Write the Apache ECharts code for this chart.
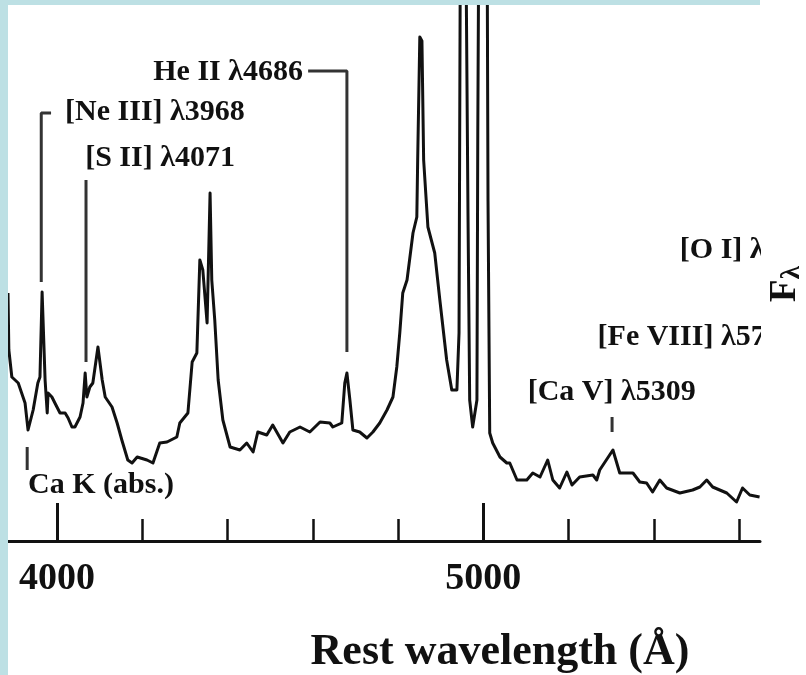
<!DOCTYPE html>
<html>
<head>
<meta charset="utf-8">
<title>Rest-frame spectrum</title>
<script src="https://cdn.jsdelivr.net/npm/echarts@6.0.0/dist/echarts.min.js"></script>
<style>
  html, body { margin: 0; padding: 0; background: #fff; }
  #chart { width: 806px; height: 675px; }
</style>
</head>
<body>
<div id="chart"></div>
<script>
// spectrum (flux in arbitrary units)
const wavelength = [3885, 3887, 3894, 3909, 3925, 3932, 3944, 3955, 3960, 3965, 3972, 3977, 3979, 3988, 3995,
  4007, 4019, 4026, 4035, 4042, 4054, 4061, 4066, 4070, 4077, 4084, 4096, 4106, 4113, 4129, 4141, 4152, 4166,
  4176, 4188, 4211, 4225, 4241, 4258, 4281, 4288, 4307, 4317, 4328, 4335, 4342, 4352, 4359, 4363, 4370, 4378,
  4389, 4406, 4429, 4445, 4460, 4471, 4492, 4506, 4530, 4546, 4570, 4593, 4617, 4640, 4647, 4668, 4675, 4680,
  4687, 4694, 4710, 4727, 4741, 4757, 4774, 4788, 4797, 4804, 4811, 4821, 4835, 4844, 4846, 4851, 4856, 4860,
  4870, 4886, 4898, 4914, 4926, 4938, 4943, 4950, 4964, 4968, 4975, 4985, 4987, 5001, 5011, 5015, 5022, 5039,
  5055, 5062, 5079, 5102, 5116, 5133, 5151, 5163, 5179, 5196, 5208, 5226, 5257, 5266, 5273, 5304, 5320, 5351,
  5367, 5383, 5397, 5414, 5430, 5461, 5491, 5508, 5524, 5538, 5571, 5594, 5608, 5625, 5648]
const flux = [248, 191, 164, 158, 138, 111, 131, 158, 164, 249, 161, 128, 148, 144, 138,
  128, 128, 123, 114, 114, 124, 138, 168, 144, 154, 158, 194, 161, 144, 134, 118, 101, 81,
  78, 84, 81, 78, 98, 99, 104, 118, 128, 179, 188, 281, 271, 218, 348, 261, 221, 161,
  121, 94, 91, 98, 89, 109, 106, 116, 98, 109, 114, 109, 119, 118, 114, 118, 158, 168,
  141, 111, 109, 103, 109, 118, 131, 144, 174, 208, 248, 261, 308, 324, 381, 504, 500, 381,
  314, 288, 241, 181, 151, 151, 208, 1100, 328, 141, 114, 141, 408, 1600, 340, 108, 98, 84,
  78, 78, 61, 61, 68, 64, 81, 61, 53, 69, 56, 64, 66, 61, 71, 91, 68, 68,
  59, 58, 49, 61, 53, 48, 51, 54, 61, 54, 48, 39, 53, 46, 44]

const tickValues = [4000, 4200, 4400, 4600, 4800, 5000, 5200, 5400, 5600]
const majorTicks = [4000, 5000]

// line identifications: text, anchor wavelength, anchor flux, side of the anchor the text sits on
const lineNames = ['He II \u03bb4686', '[Ne III] \u03bb3968', '[S II] \u03bb4071', 'Ca K (abs.)',
  '[Ca V] \u03bb5309', '[Fe VIII] \u03bb5721', '[O I] \u03bb6300']
const lineLambda = [4577, 4019, 4066, 3932, 5104, 5268, 5461]
const lineFlux = [469, 429, 383, 56, 149, 204, 291]
const lineSide = ['left', 'right', 'right', 'right', 'right', 'right', 'right']

// leader lines from the labels down to the features
const heLeader = [[4589, 470], [4680, 470], [4680, 189]]
const neLeader = [[3986, 428], [3963, 428], [3963, 259]]
const sLeader = [[4068, 361], [4068, 179]]
const caKLeader = [[3930, 94], [3930, 71]]
const caVLeader = [[5302, 124], [5302, 109]]

const serif = "'Liberation Serif', 'Times New Roman', serif"
const ink = '#111'
const scanBlue = '#bde0e4'

const chart = echarts.init(document.getElementById('chart'))

const axisBase = {
  type: 'value',
  min: 3885,
  max: 5649,
  position: 'bottom',
  splitLine: { show: false }
}

chart.setOption({
  animation: false,
  backgroundColor: '#fff',
  grid: { left: 8, right: 46, top: 5, bottom: 134, outerBoundsMode: 'none', containLabel: false },
  xAxis: [
    {
      ...axisBase,
      name: 'Rest wavelength (\u00c5)',
      nameLocation: 'middle',
      nameGap: 90,
      nameTextStyle: { fontFamily: serif, fontWeight: 'bold', fontSize: 44, color: ink, padding: [0, 0, 0, 232] },
      axisLine: { lineStyle: { color: ink, width: 3 } },
      axisTick: { inside: true, length: 22, customValues: tickValues, lineStyle: { color: ink, width: 2.5 } },
      axisLabel: {
        customValues: majorTicks,
        formatter: v => String(v),
        margin: 19,
        fontFamily: serif,
        fontWeight: 'bold',
        fontSize: 38,
        color: ink
      }
    },
    {
      ...axisBase,
      axisLine: { show: false },
      axisTick: { inside: true, length: 38, customValues: majorTicks, lineStyle: { color: ink, width: 3 } },
      axisLabel: { show: false }
    }
  ],
  yAxis: {
    type: 'value',
    min: 0,
    max: 536,
    position: 'right',
    z: 120,
    axisLine: { show: false },
    axisTick: { show: false },
    axisLabel: { show: false },
    splitLine: { show: false },
    name: '{f|F}{s|\u03bb}',
    nameLocation: 'middle',
    nameRotate: 90,
    nameGap: 5,
    nameTextStyle: {
      padding: [0, 22, 0, 0],
      rich: {
        f: { fontFamily: serif, fontWeight: 'bold', fontSize: 37, color: ink },
        s: { fontFamily: serif, fontWeight: 'bold', fontSize: 27, color: ink, padding: [14, 0, 0, 0] }
      }
    }
  },
  graphic: [
    { type: 'rect', z: 50, shape: { x: 761, y: 0, width: 45, height: 540 }, style: { fill: '#fff' } },
    { type: 'rect', z: 100, shape: { x: 0, y: 0, width: 8, height: 675 }, style: { fill: scanBlue } },
    { type: 'rect', z: 100, shape: { x: 0, y: 0, width: 760, height: 5 }, style: { fill: scanBlue } }
  ],
  series: [
    {
      type: 'line',
      data: wavelength.map((w, i) => [w, flux[i]]),
      symbol: 'none',
      clip: true,
      lineStyle: { color: ink, width: 3, join: 'round' }
    },
    ...[heLeader, neLeader, sLeader, caKLeader, caVLeader].map(pts => ({
      type: 'line',
      data: pts,
      symbol: 'none',
      silent: true,
      lineStyle: { color: '#333', width: 3 }
    })),
    {
      type: 'scatter',
      symbolSize: 0,
      silent: true,
      itemStyle: { opacity: 1 },
      data: lineNames.map((name, i) => ({
        value: [lineLambda[i], lineFlux[i]],
        label: {
          show: true,
          formatter: name,
          position: lineSide[i],
          distance: 0,
          opacity: 1,
          fontFamily: serif,
          fontWeight: 'bold',
          fontSize: 30,
          color: ink
        }
      }))
    }
  ]
})
</script>
</body>
</html>
